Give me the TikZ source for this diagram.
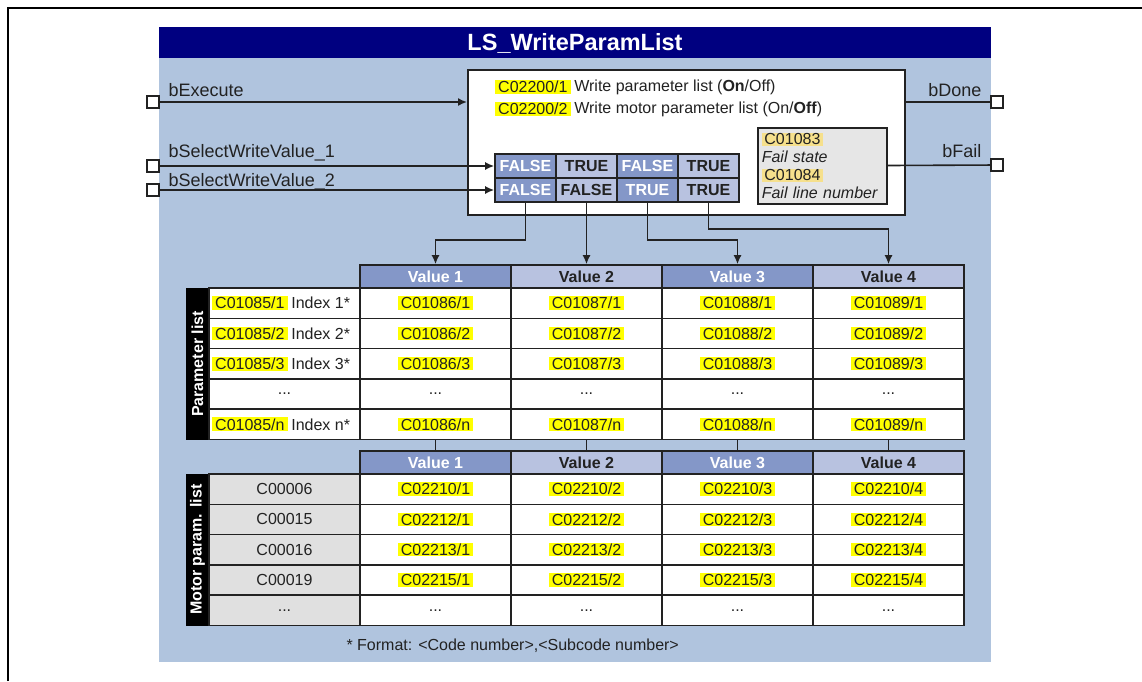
\documentclass[tikz,border=0pt]{standalone}
\usepackage{fontspec}
\setmainfont{Liberation Sans}
\usetikzlibrary{arrows.meta}
\definecolor{panel}{HTML}{B0C4DE}
\definecolor{navy}{HTML}{000080}
\definecolor{darkcol}{HTML}{8497C8}
\definecolor{lightcol}{HTML}{B8C2E0}
\definecolor{hlyellow}{HTML}{FFFF00}
\definecolor{paleyellow}{HTML}{F6E08C}
\definecolor{cellgray}{HTML}{E0E0E0}
\definecolor{failgray}{HTML}{E6E6E6}
\definecolor{ink}{HTML}{222222}
\newcommand{\txtsize}{\fontsize{16}{18}\selectfont}
\newcommand{\hlcode}[1]{{\setlength{\fboxsep}{0.8pt}\colorbox{hlyellow}{\hspace{1.8pt}#1\hspace{1.8pt}}}}
\newcommand{\hlpale}[1]{{\setlength{\fboxsep}{0.8pt}\colorbox{paleyellow}{\hspace{1.8pt}#1\hspace{1.8pt}}}}
\begin{document}
\begin{tikzpicture}[x=1pt,y=-1pt,
  every node/.style={text=ink,font=\txtsize},
  io/.style={font=\fontsize{18}{21}\selectfont},
  sq/.style={draw=ink,fill=white,line width=1.1pt,minimum size=12pt,inner sep=0pt},
  hl/.style={fill=hlyellow,inner xsep=3pt,inner ysep=1pt},
  wire/.style={draw=ink,line width=1.6pt},
  arr/.style={wire,-{Latex[length=9pt,width=8pt]}},
  tcell/.style={draw=ink,line width=1.6pt,minimum width=61pt,minimum height=24pt,inner sep=0pt,font=\txtsize\bfseries},
  dk/.style={fill=darkcol,text=white},
  lt/.style={fill=lightcol},
  cell/.style={draw=ink,line width=1.6pt,fill=white,minimum width=151pt,minimum height=30.3pt,inner sep=0pt},
  hcell/.style={cell,minimum height=23pt,font=\txtsize\bfseries},
  strip/.style={fill=black,text=white,rotate=90,minimum width=151.5pt,minimum height=23pt,inner sep=0pt,font=\txtsize\bfseries}
]
\useasboundingbox (0,0) rectangle (1142,681);
\draw[line width=1.4pt] (8,681) -- (8,8) -- (1142,8);

\fill[panel] (159,27) rectangle (991,662);
\fill[navy] (159,27) rectangle (991,58);
\node[font=\fontsize{23.5}{28}\selectfont\bfseries,text=white] (title) at (575,43) {LS\_WriteParamList};

\node[draw=ink,line width=1.6pt,fill=white,anchor=north west,minimum width=437pt,minimum height=145pt] (mainbox) at (467,69) {};
\node[hl,anchor=west] (c1) at (495,87) {C02200/1};
\node[anchor=west] (d1) at (c1.east) {Write parameter list (\textbf{On}/Off)};
\node[hl,anchor=west] (c2) at (495,109) {C02200/2};
\node[anchor=west] (d2) at (c2.east) {Write motor parameter list (On/\textbf{Off})};

\foreach \c/\st/\a/\b in {1/dk/FALSE/FALSE,2/lt/TRUE/FALSE,3/dk/FALSE/TRUE,4/lt/TRUE/TRUE} {
  \node[tcell,\st] (ta\c) at ({464.5+61*\c},166) {\a};
  \node[tcell,\st] (tb\c) at ({464.5+61*\c},190) {\b};
}

\node[draw=ink,line width=1.6pt,fill=failgray,anchor=north west,minimum width=129pt,minimum height=76pt,
  text width=121pt,inner xsep=4pt,align=left] (failbox) at (757,127)
  {\hlpale{C01083}\\\textit{Fail state}\\\hlpale{C01084}\\\textit{Fail line number}};

\node[sq] (inE) at (153,102) {};
\node[sq] (inA) at (153,166) {};
\node[sq] (inB) at (153,190) {};
\node[sq] (outD) at (997,102) {};
\node[sq] (outF) at (997,165) {};

\node[io,anchor=base west] (lExe) at (165,96) {bExecute};
\node[io,anchor=base west] (lSel1) at (165,157) {bSelectWriteValue\_1};
\node[io,anchor=base west] (lSel2) at (165,186) {bSelectWriteValue\_2};
\node[io,anchor=base east] (lDone) at (985,96) {bDone};
\node[io,anchor=base east] (lFail) at (985,157) {bFail};

\draw[arr] (inE) -- (inE -| mainbox.west);
\draw[arr] (inA) -- (ta1);
\draw[arr] (inB) -- (tb1);
\draw[wire] (mainbox.east |- outD) -- (outD);
\draw[wire] (failbox) -- (outF);

\foreach \c/\st in {1/dk,2/lt,3/dk,4/lt} {
  \node[hcell,\st] (h\c) at ({284.5+151*\c},276.5) {Value \c};
  \node[hcell,\st] (mh\c) at ({284.5+151*\c},462.5) {Value \c};
}

\draw[arr] (tb1.south) -- ++(0,37) -| (h1.north);
\draw[arr] (tb2.south) -- (h2.north);
\draw[arr] (tb3.south) -- ++(0,37) -| (h3.north);
\draw[arr] (tb4.south) -- ++(0,26) -| (h4.north);

\node[strip] (s1) at (197.5,364) {Parameter list};
\foreach \r/\lab in {1/1,2/2,3/3,5/n} {
  \node[cell] (pl\r) at (284.5,{288+30.3*(\r-0.5)}) {};
  \node[hl,anchor=west] (pk\r) at (212,{288+30.3*(\r-0.5)}) {C01085/\lab};
  \node[anchor=west] (pi\r) at (pk\r.east) {Index \lab*};
  \foreach \c in {1,...,4} {
    \pgfmathtruncatemacro\code{1085+\c}
    \node[cell] (p\r-\c) at ({284.5+151*\c},{288+30.3*(\r-0.5)}) {\hlcode{C0\code/\lab}};
  }
}
\node[cell] (pl4) at (284.5,{288+30.3*3.5}) {...};
\foreach \c in {1,...,4}
  \node[cell] (p4-\c) at ({284.5+151*\c},{288+30.3*3.5}) {...};

\foreach \c in {1,...,4}
  \draw[wire] (p5-\c.south) -- (mh\c.north);

\node[strip] (s2) at (197.5,549.75) {Motor param. list};
\foreach \r/\mc/\pc in {1/C00006/C02210,2/C00015/C02212,3/C00016/C02213,4/C00019/C02215} {
  \node[cell,fill=cellgray] (ml\r) at (284.5,{474+30.3*(\r-0.5)}) {\mc};
  \foreach \c in {1,...,4}
    \node[cell] (m\r-\c) at ({284.5+151*\c},{474+30.3*(\r-0.5)}) {\hlcode{\pc/\c}};
}
\node[cell,fill=cellgray] (ml5) at (284.5,{474+30.3*4.5}) {...};
\foreach \c in {1,...,4}
  \node[cell] (m5-\c) at ({284.5+151*\c},{474+30.3*4.5}) {...};

\node[anchor=west] (note) at (343,646) {* Format: <Code number>,<Subcode number>};
\end{tikzpicture}
\end{document}
